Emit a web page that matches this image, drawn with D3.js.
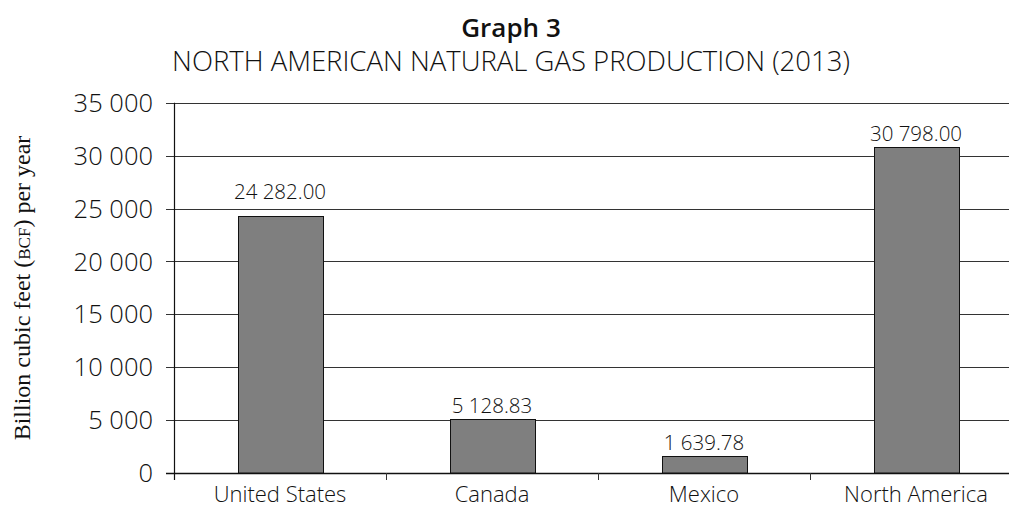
<!DOCTYPE html>
<html><head><meta charset="utf-8">
<script src="https://cdn.jsdelivr.net/npm/d3@7/dist/d3.min.js"></script>
<style>
html,body{margin:0;padding:0;background:#fff;overflow:hidden}
svg{display:block}
.sans{font-family:"Open Sans","Noto Sans",sans-serif;font-weight:300;fill:#111}
.bold{font-weight:600}
.serif{font-family:"Liberation Serif","Times New Roman",serif;font-weight:400;font-style:normal;fill:#111}
</style></head>
<body><svg id="c" width="1009" height="508"></svg>
<script>
const categories = ["United States","Canada","Mexico","North America"];
const values = [24282.00, 5128.83, 1639.78, 30798.00];
const valueLabels = ["24 282.00","5 128.83","1 639.78","30 798.00"];
const yTicks = [0,5000,10000,15000,20000,25000,30000,35000];
const yTickLabels = ["0","5 000","10 000","15 000","20 000","25 000","30 000","35 000"];
const titleText = "Graph 3";
const subtitleText = "NORTH AMERICAN NATURAL GAS PRODUCTION (2013)";

(function(){
const svg = d3.select("#c");
const pl = 174, pr = 1022, pt = 102.7, pb = 473;
const x = d3.scaleBand().domain(categories).range([pl,pr]).paddingInner(0.6).paddingOuter(0.3);
const y = d3.scaleLinear().domain([0,35000]).range([pb,pt]);

// gridlines
svg.append("g").selectAll("line").data(yTicks).join("line")
  .attr("x1",pl-8).attr("x2",pr)
  .attr("y1",d=>Math.round(y(d))+0.5).attr("y2",d=>Math.round(y(d))+0.5)
  .attr("stroke",d=>d===0?"#111":"#333").attr("stroke-width",d=>d===0?1.4:1);

// y axis line
svg.append("line").attr("x1",pl+0.5).attr("x2",pl+0.5)
  .attr("y1",pt).attr("y2",pb+7).attr("stroke","#111").attr("stroke-width",1.2);

// category boundary ticks
const step = x.step(), gap = step - x.bandwidth();
svg.append("g").selectAll("line").data(categories.slice(1)).join("line")
  .attr("x1",d=>Math.round(x(d)-gap/2)+0.5).attr("x2",d=>Math.round(x(d)-gap/2)+0.5)
  .attr("y1",pb).attr("y2",pb+7).attr("stroke","#333").attr("stroke-width",1);

// y tick labels
svg.append("g").selectAll("text").data(yTicks).join("text")
  .attr("class","sans").attr("x",153).attr("y",d=>y(d)).attr("dy","0.36em")
  .attr("text-anchor","end").attr("font-size",25.5)
  .text((d,i)=>yTickLabels[i]);

// bars
svg.append("g").selectAll("rect").data(values).join("rect")
  .attr("x",(d,i)=>Math.round(x(categories[i]))+0.5)
  .attr("width",Math.round(x.bandwidth()))
  .attr("y",d=>Math.round(y(d))+0.5)
  .attr("height",d=>pb-Math.round(y(d))-0.5)
  .attr("fill","#7f7f7f").attr("stroke","#111").attr("stroke-width",1);

// value labels (lifted above a gridline if they'd overlap it)
const fs = 20.5;
svg.append("g").selectAll("text").data(values).join("text")
  .attr("class","sans").attr("font-size",fs).attr("text-anchor","middle")
  .attr("x",(d,i)=>x(categories[i])+x.bandwidth()/2)
  .attr("y",d=>{
    let b = y(d)-6;
    const capTop = b-15;
    for(const t of yTicks){ const gy=y(t); if(gy>=capTop-1 && gy<=b+1){ b = gy-10; } }
    return b;
  })
  .text((d,i)=>valueLabels[i]);

// x labels
svg.append("g").selectAll("text").data(categories).join("text")
  .attr("class","sans").attr("font-size",22).attr("text-anchor","middle")
  .attr("x",d=>x(d)+x.bandwidth()/2).attr("y",502)
  .text(d=>d);

// titles
svg.append("text").attr("class","sans bold").attr("x",511).attr("y",37)
  .attr("text-anchor","middle").attr("font-size",26).text(titleText);
svg.append("text").attr("class","sans").attr("x",511).attr("y",71)
  .attr("text-anchor","middle").attr("font-size",27.5).text(subtitleText);

// y axis title
const yt = svg.append("text").attr("class","serif").attr("transform","translate(30,288) rotate(-90)")
  .attr("text-anchor","middle").attr("font-size",24);
yt.append("tspan").text("Billion cubic feet (");
yt.append("tspan").attr("font-size",17).text("BCF");
yt.append("tspan").text(") per year");
})();
</script></body></html>
